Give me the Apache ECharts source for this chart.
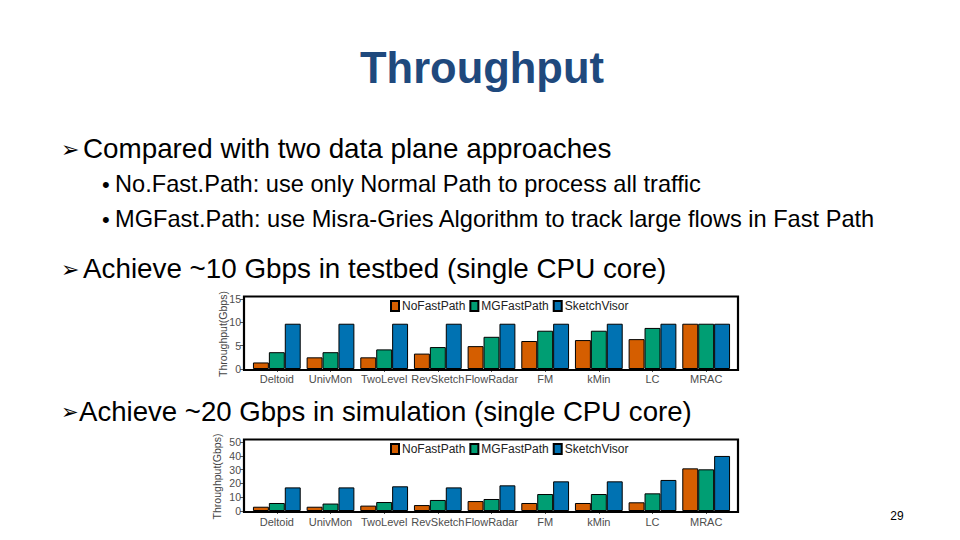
<!DOCTYPE html>
<html>
<head>
<meta charset="utf-8">
<script src="https://cdn.jsdelivr.net/npm/echarts@6/dist/echarts.min.js"></script>
<style>
html,body{margin:0;padding:0;background:#fff;}
#c{width:960px;height:540px;}
</style>
</head>
<body>
<div id="c"></div>
<script>
const categories = ['Deltoid','UnivMon','TwoLevel','RevSketch','FlowRadar','FM','kMin','LC','MRAC'];
const seriesNames = ['NoFastPath','MGFastPath','SketchVisor'];
// Testbed throughput (Gbps)
const testbedNoFast = [1.4, 2.5, 2.5, 3.3, 4.9, 6.0, 6.2, 6.4, 9.7];
const testbedMG     = [3.6, 3.6, 4.2, 4.7, 6.9, 8.2, 8.2, 8.8, 9.7];
const testbedSketch = [9.7, 9.7, 9.7, 9.7, 9.7, 9.7, 9.7, 9.7, 9.7];
// Simulation throughput (Gbps)
const simNoFast = [3.1, 3.1, 3.9, 4.3, 7.2, 5.8, 5.8, 6.3, 30.9];
const simMG     = [5.8, 5.4, 6.5, 8.0, 8.7, 12.3, 12.3, 12.8, 30.2];
const simSketch = [17.1, 17.1, 17.9, 17.1, 18.6, 21.5, 21.5, 22.5, 39.9];
const yTicks1 = {min: 0, max: 15, interval: 5};
const yTicks2 = {min: 0, max: 50, interval: 10};

const colors = ['#D55E00', '#009E73', '#0072B2'];
const FONT = '"Liberation Sans", Arial, sans-serif';

const chart = echarts.init(document.getElementById('c'), null, {renderer: 'svg'});

function mkSeries(data, idx, ci) {
  return {
    type: 'bar', name: seriesNames[ci], data: data,
    xAxisIndex: idx, yAxisIndex: idx,
    barGap: '0%', barCategoryGap: '11%',
    itemStyle: {color: colors[ci], borderColor: '#000', borderWidth: 1},
    emphasis: {disabled: true}, animation: false
  };
}

function mkX(idx, margin) {
  return {
    type: 'category', data: categories, gridIndex: idx, offset: 1.5,
    axisLine: {show: false},
    axisTick: {show: true, alignWithLabel: true, length: 3, lineStyle: {color: '#555'}},
    axisLabel: {color: '#4D4D4D', fontSize: 11, fontFamily: FONT, margin: margin, interval: 0}
  };
}
function mkY(idx, t, gap) {
  return {
    type: 'value', gridIndex: idx, min: t.min, max: t.max, interval: t.interval, offset: 7,
    name: 'Throughput(Gbps)', nameLocation: 'middle', nameRotate: 90, nameGap: gap,
    nameMoveOverlap: false,
    nameTextStyle: {color: '#444', fontSize: 10.5, fontFamily: FONT},
    splitLine: {show: false},
    axisLine: {show: false},
    axisTick: {show: true, length: 3, lineStyle: {color: '#555'}},
    axisLabel: {color: '#4D4D4D', fontSize: 10.5, fontFamily: FONT, margin: 2}
  };
}
function mkLegend(top) {
  return {
    data: seriesNames, top: top, left: 385, orient: 'horizontal',
    icon: 'rect', itemWidth: 8, itemHeight: 10, itemGap: 4,
    textStyle: {color: '#222', fontSize: 12, fontFamily: FONT, padding: [0, 0, 0, -2]},
    selectedMode: false
  };
}

function txt(x, y, s, size, opts) {
  return Object.assign({
    type: 'text', x: x, y: y, silent: true,
    style: Object.assign({text: s, fontSize: size, fontFamily: FONT, fill: '#000', textVerticalAlign: 'middle', verticalAlign: 'middle'}, opts || {})
  });
}

const ARROW = {fontFamily: '"DejaVu Sans"'};
const graphics = [
  // title
  txt(482, 68, 'Throughput', 43.5, {fontWeight: 'bold', fill: '#1F497D', align: 'center', textAlign: 'center',
      shadowColor: 'rgba(0,0,0,0.25)', shadowBlur: 2, shadowOffsetX: 2, shadowOffsetY: 2}),
  // bullets
  txt(61, 149, '\u27A2', 22, ARROW),
  txt(83, 148, 'Compared with two data plane approaches', 27.8),
  txt(102, 184, '\u2022', 22),
  txt(115, 184, 'No.Fast.Path: use only Normal Path to process all traffic', 23.6),
  txt(102, 219, '\u2022', 22),
  txt(115, 219, 'MGFast.Path: use Misra-Gries Algorithm to track large flows in Fast Path', 23.6),
  txt(61, 269, '\u27A2', 22, ARROW),
  txt(83, 268, 'Achieve ~10 Gbps in testbed (single CPU core)', 27.8),
  txt(61, 412, '\u27A2', 21, ARROW),
  txt(79, 411, 'Achieve ~20 Gbps in simulation (single CPU core)', 27.6),
  txt(897, 516, '29', 12, {align: 'center', textAlign: 'center'}),
  // panel boxes
  {type: 'rect', silent: true, z: 10, shape: {x: 244, y: 296.5, width: 494, height: 73.5},
   style: {fill: 'none', stroke: '#000', lineWidth: 2.2}},
  {type: 'rect', silent: true, z: 10, shape: {x: 244, y: 439.5, width: 494, height: 72.5},
   style: {fill: 'none', stroke: '#000', lineWidth: 2.2}}
];

chart.setOption({
  animation: false,
  backgroundColor: '#fff',
  grid: [
    {left: 250, right: 227, top: 299, height: 70, containLabel: false},
    {left: 250, right: 227, top: 442, height: 69, containLabel: false}
  ],
  legend: [mkLegend(295), mkLegend(438)],
  xAxis: [mkX(0, 3), mkX(1, 4)],
  yAxis: [mkY(0, yTicks1, 15), mkY(1, yTicks2, 21)],
  series: [
    mkSeries(testbedNoFast, 0, 0), mkSeries(testbedMG, 0, 1), mkSeries(testbedSketch, 0, 2),
    mkSeries(simNoFast, 1, 0), mkSeries(simMG, 1, 1), mkSeries(simSketch, 1, 2)
  ],
  graphic: graphics
});
</script>
</body>
</html>
